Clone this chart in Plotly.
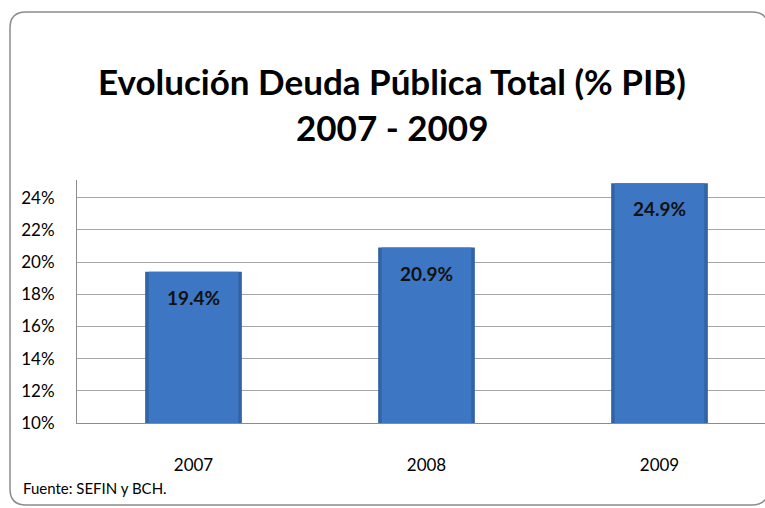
"""Evolución de la deuda pública total (% PIB), 2007-2009."""

import plotly.graph_objects as go

YEARS = ["2007", "2008", "2009"]
DEBT_PCT = [19.4, 20.9, 24.9]
Y_TICKS = [10, 12, 14, 16, 18, 20, 22, 24]

TITLE_LINE_1 = "Evolución Deuda Pública Total (% PIB)"
TITLE_LINE_2 = "2007 - 2009"
SOURCE = "Fuente: SEFIN y BCH."

FONT = "Lato, 'Open Sans', sans-serif"
W, H = 765, 508
L, R, T, B = 77, 0, 180, 508 - 423
PLOT_W = W - L - R
PLOT_H = H - T - B


def px_x(x):
    """Pixel x -> paper fraction."""
    return (x - L) / PLOT_W


def px_y(y):
    """Pixel y (from top) -> paper fraction."""
    return (H - B - y) / PLOT_H


def rounded_frame(x0, y0, x1, y1, r):
    rx, ry = r / PLOT_W, r / PLOT_H
    a, b, c, d = px_x(x0), px_y(y1), px_x(x1), px_y(y0)
    return (
        f"M {a + rx},{d} L {c - rx},{d} Q {c},{d} {c},{d - ry} "
        f"L {c},{b + ry} Q {c},{b} {c - rx},{b} "
        f"L {a + rx},{b} Q {a},{b} {a},{b + ry} "
        f"L {a},{d - ry} Q {a},{d} {a + rx},{d} Z"
    )


fig = go.Figure()
# darker outer bar gives a bevel edge, lighter inner bar the face
fig.add_trace(go.Bar(
    x=YEARS, y=DEBT_PCT, width=0.415,
    marker=dict(color="#3163A6", line=dict(width=0)), hoverinfo="skip",
))
fig.add_trace(go.Bar(
    x=YEARS, y=DEBT_PCT, width=0.385,
    marker=dict(color="#3D77C3", line=dict(width=0)), hoverinfo="skip",
))

for i, val in enumerate(DEBT_PCT):
    fig.add_annotation(
        x=i, y=val, xref="x", yref="y", text=f"<b>{val:.1f}%</b>", showarrow=False,
        yanchor="top", yshift=-12, font=dict(family=FONT, size=19, color="#111111"),
    )

fig.add_annotation(
    x=px_x(392), y=px_y(81), xref="paper", yref="paper", text=f"<b>{TITLE_LINE_1}</b>",
    showarrow=False, xanchor="center", yanchor="middle",
    font=dict(family=FONT, size=35, color="#000000"),
)
fig.add_annotation(
    x=px_x(392), y=px_y(127), xref="paper", yref="paper", text=f"<b>{TITLE_LINE_2}</b>",
    showarrow=False, xanchor="center", yanchor="middle",
    font=dict(family=FONT, size=35, color="#000000"),
)
fig.add_annotation(
    x=px_x(21), y=px_y(488), xref="paper", yref="paper", text=SOURCE,
    showarrow=False, xanchor="left", yanchor="middle",
    font=dict(family=FONT, size=15, color="#000000"),
)

# chart frame, its right edge just past the window
fig.add_shape(
    type="path", xref="paper", yref="paper",
    path=rounded_frame(10, 12, 768, 505, 16),
    line=dict(color="#8C8C8C", width=1.5), layer="below",
)

fig.update_layout(
    width=W, height=H,
    margin=dict(l=L, r=R, t=T, b=B, autoexpand=False),
    paper_bgcolor="white", plot_bgcolor="white",
    showlegend=False, barmode="overlay",
    font=dict(family=FONT, size=17, color="#000000"),
)
fig.update_xaxes(
    type="category", range=[-0.5, 2.5 - 11 / 233], showgrid=False, showline=True,
    linecolor="#8C8C8C", linewidth=1, ticks="", ticklabelstandoff=27,
    tickfont=dict(size=17), fixedrange=True, automargin=False,
)
fig.update_yaxes(
    range=[10, 25.1], tickmode="array", tickvals=Y_TICKS,
    ticktext=[f"{v}%" for v in Y_TICKS], showgrid=True,
    gridcolor="#A6A6A6", gridwidth=1, showline=True, linecolor="#8C8C8C",
    linewidth=1, ticks="", ticklabelstandoff=18, zeroline=False,
    tickfont=dict(size=17), fixedrange=True, automargin=False,
)

# drop the default page margin so the 765x508 figure fills the window exactly
fig.write_html(
    "out.html",
    config={"displayModeBar": False},
    post_script="document.body.style.margin='0';document.body.style.overflow='hidden';",
)
